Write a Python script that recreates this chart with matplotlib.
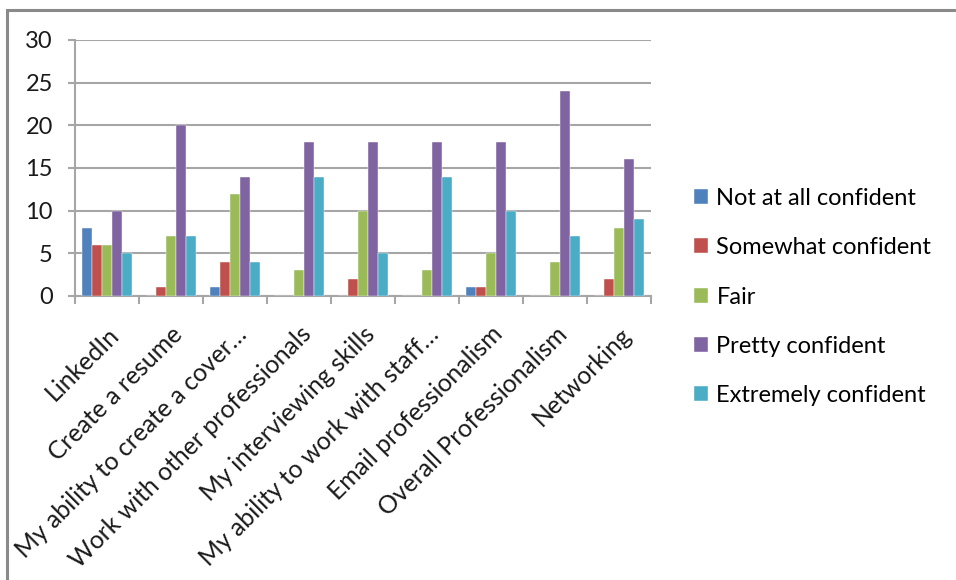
import numpy as np
import matplotlib
matplotlib.use("Agg")
import matplotlib.pyplot as plt
from matplotlib.patches import Rectangle

plt.rcParams['font.family'] = ['Lato', 'DejaVu Sans']

categories = ['LinkedIn', 'Create a resume', 'My ability to create a cover…',
              'Work with other professionals', 'My interviewing skills',
              'My ability to work with staff…', 'Email professionalism',
              'Overall Professionalism', 'Networking']
series_names = ['Not at all confident', 'Somewhat confident', 'Fair',
                'Pretty confident', 'Extremely confident']
not_at_all = [8, 0, 1, 0, 0, 0, 1, 0, 0]
somewhat = [6, 1, 4, 0, 2, 0, 1, 0, 2]
fair = [6, 7, 12, 3, 10, 3, 5, 4, 8]
pretty = [10, 20, 14, 18, 18, 18, 18, 24, 16]
extremely = [5, 7, 4, 14, 5, 14, 10, 7, 9]
colors = ['#4F81BD', '#C0504D', '#9BBB59', '#8064A2', '#4BACC6']

values = [not_at_all, somewhat, fair, pretty, extremely]

fig = plt.figure(figsize=(9.56, 5.8), dpi=100)
ax = fig.add_axes([75 / 956, 1 - 296 / 580, 576 / 956, 256 / 580])

# outer chart frame
fig.patches.append(Rectangle((7 / 956, -0.1), 1.2, 1 - 10 / 580 + 0.1,
                             transform=fig.transFigure, fill=False,
                             edgecolor='#8a8a8a', linewidth=2.2))

x = np.arange(len(categories))
width = 1 / 6.5
for i, (vals, name, c) in enumerate(zip(values, series_names, colors)):
    ax.bar(x + (i - 2) * width, vals, width, color=c, label=name,
           edgecolor='white', linewidth=0.3, zorder=3)

ax.set_xlim(-0.5, len(categories) - 0.5)
ax.set_ylim(0, 30)
ax.set_yticks(range(0, 31, 5))
ax.yaxis.grid(True, color='#a6a6a6', linewidth=1.5, zorder=0)
ax.set_axisbelow(True)

for s in ['top', 'right']:
    ax.spines[s].set_visible(False)
for s in ['left', 'bottom']:
    ax.spines[s].set_color('#a6a6a6')
    ax.spines[s].set_linewidth(1.5)

ax.tick_params(axis='y', length=5, color='#a6a6a6', width=1.5,
               labelsize=17, pad=11, labelcolor='#1a1a1a')
ax.set_xticks(np.arange(-0.5, len(categories), 1))
ax.set_xticklabels([])
ax.tick_params(axis='x', which='major', length=6, color='#a6a6a6', width=1.5)
ax.set_xticks(x, minor=True)
ax.set_xticklabels(categories, minor=True, rotation=45, ha='right',
                   rotation_mode='anchor', fontsize=17.8, color='#1a1a1a')
ax.tick_params(axis='x', which='minor', length=0, pad=19)

ax.legend(loc='center left', bbox_to_anchor=(694 / 956, 1 - 297 / 580),
          bbox_transform=fig.transFigure, frameon=False, borderpad=0,
          borderaxespad=0, fontsize=17, handlelength=0.6, handleheight=0.6,
          labelspacing=1.2, handletextpad=0.35)

fig.savefig('out.png', dpi=100)
